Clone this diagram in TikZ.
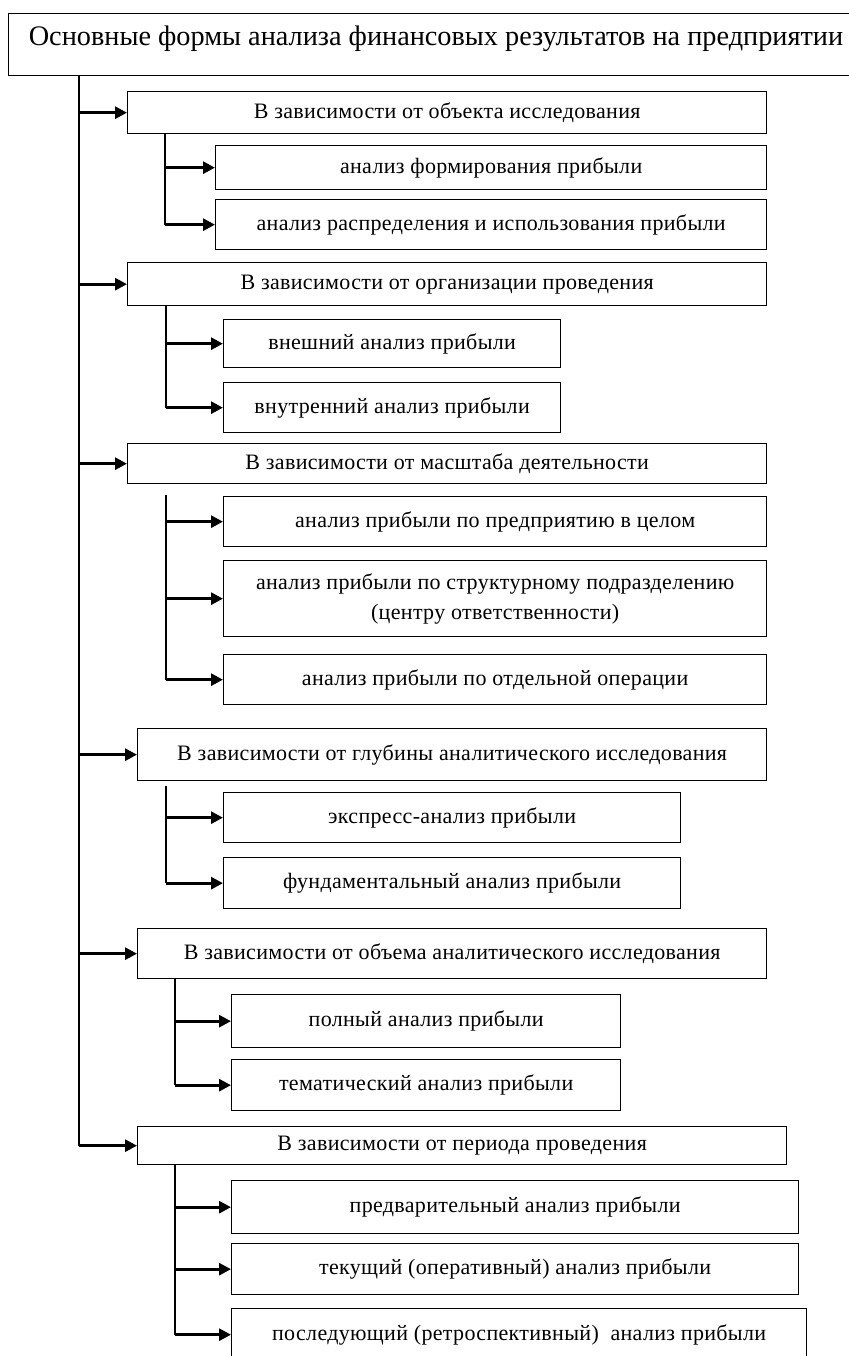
\documentclass[tikz,border=0pt]{standalone}
\usepackage{fontspec}
\setmainfont{Liberation Serif}
\newfontfamily\formfont[LetterSpace=1.5]{Liberation Serif}
\usepackage{xcolor}
\definecolor{Black}{RGB}{0,0,0}
\definecolor{White}{RGB}{255,255,255}
\newcommand{\pxl}[1]{#1*0.75pt}
\usetikzlibrary{arrows.meta}

\begin{document}
\begin{tikzpicture}[x=0.75pt, y=-0.75pt,
		titlebox/.style={draw=Black, line width=1pt, anchor=north west, inner sep=0pt, text height=14pt, text depth=12.5pt, font=\fontsize{21.2}{25}\selectfont},
		formbox/.style={draw=Black, line width=1pt, anchor=north west, inner sep=0pt, align=center, font=\formfont\fontsize{16.5}{22.5}\selectfont},
		link/.style={draw=Black, line width=1pt},
		feed/.style={draw=Black, line width=2.1pt, -{Triangle[length=9pt, width=9pt]}}]
		
		\useasboundingbox[fill=White] (0,0) rectangle (849,1356);
		
		% Title
		\node[titlebox, minimum width=\pxl{844}, minimum height=\pxl{62}] (main) at (8,13) {\hspace*{8pt}Основные формы анализа финансовых результатов на предприятии};
		
		% Forms
		\node[formbox, minimum width=\pxl{639}, minimum height=\pxl{42}] (obj) at (127,91) {В зависимости от объекта исследования};
		\node[formbox, minimum width=\pxl{639}, minimum height=\pxl{43}] (org) at (127,262) {В зависимости от организации проведения};
		\node[formbox, minimum width=\pxl{639}, minimum height=\pxl{40}] (scale) at (127,443) {В зависимости от масштаба деятельности};
		\node[formbox, minimum width=\pxl{629}, minimum height=\pxl{52}] (depth) at (137,728) {В зависимости от глубины аналитического исследования};
		\node[formbox, minimum width=\pxl{629}, minimum height=\pxl{50}] (vol) at (137,928) {В зависимости от объема аналитического исследования};
		\node[formbox, minimum width=\pxl{649}, minimum height=\pxl{38}] (period) at (137,1126) {В зависимости от периода проведения};
		
		% Kinds
		\node[formbox, minimum width=\pxl{551}, minimum height=\pxl{44}] (obj1) at (215,145) {анализ формирования прибыли};
		\node[formbox, minimum width=\pxl{551}, minimum height=\pxl{50}] (obj2) at (215,199) {анализ распределения и использования прибыли};
		
		\node[formbox, minimum width=\pxl{337}, minimum height=\pxl{48}] (org1) at (223,319) {внешний анализ прибыли};
		\node[formbox, minimum width=\pxl{337}, minimum height=\pxl{50}] (org2) at (223,382) {внутренний анализ прибыли};
		
		\node[formbox, minimum width=\pxl{543}, minimum height=\pxl{50}] (scale1) at (223,496) {анализ прибыли по предприятию в целом};
		\node[formbox, minimum width=\pxl{543}, minimum height=\pxl{76}] (scale2) at (223,560) {анализ прибыли по структурному подразделению\\(центру ответственности)};
		\node[formbox, minimum width=\pxl{543}, minimum height=\pxl{50}] (scale3) at (223,654) {анализ прибыли по отдельной операции};
		
		\node[formbox, minimum width=\pxl{457}, minimum height=\pxl{50}] (depth1) at (223,792) {экспресс-анализ прибыли};
		\node[formbox, minimum width=\pxl{457}, minimum height=\pxl{51}] (depth2) at (223,857) {фундаментальный анализ прибыли};
		
		\node[formbox, minimum width=\pxl{389}, minimum height=\pxl{53}] (vol1) at (231,994) {полный анализ прибыли};
		\node[formbox, minimum width=\pxl{389}, minimum height=\pxl{51}] (vol2) at (231,1059) {тематический анализ прибыли};
		
		\node[formbox, minimum width=\pxl{567}, minimum height=\pxl{53}] (period1) at (231,1180) {предварительный анализ прибыли};
		\node[formbox, minimum width=\pxl{567}, minimum height=\pxl{51}] (period2) at (231,1243) {текущий (оперативный) анализ прибыли};
		\node[formbox, minimum width=\pxl{575}, minimum height=\pxl{52}] (period3) at (231,1308) {последующий (ретроспективный)~ анализ прибыли};
		
		% Trunk
		\coordinate (trunk) at (79,75);
		\draw[link] (trunk) -- (trunk |- period.west);
		\draw[feed] (trunk |- obj.west) -- (obj.west);
		\draw[feed] (trunk |- org.west) -- (org.west);
		\draw[feed] (trunk |- scale.west) -- (scale.west);
		\draw[feed] (trunk |- depth.west) -- (depth.west);
		\draw[feed] (trunk |- vol.west) -- (vol.west);
		\draw[feed] (trunk |- period.west) -- (period.west);
		
		% Branches
		\coordinate (objbr) at (165,133);
		\draw[link] (objbr) -- (objbr |- obj2.west);
		\draw[feed] (objbr |- obj1.west) -- (obj1.west);
		\draw[feed] (objbr |- obj2.west) -- (obj2.west);
		
		\coordinate (orgbr) at (166,305);
		\draw[link] (orgbr) -- (orgbr |- org2.west);
		\draw[feed] (orgbr |- org1.west) -- (org1.west);
		\draw[feed] (orgbr |- org2.west) -- (org2.west);
		
		\coordinate (scalebr) at (166,495);
		\draw[link] (scalebr) -- (scalebr |- scale3.west);
		\draw[feed] (scalebr |- scale1.west) -- (scale1.west);
		\draw[feed] (scalebr |- scale2.west) -- (scale2.west);
		\draw[feed] (scalebr |- scale3.west) -- (scale3.west);
		
		\coordinate (depthbr) at (166,786);
		\draw[link] (depthbr) -- (depthbr |- depth2.west);
		\draw[feed] (depthbr |- depth1.west) -- (depth1.west);
		\draw[feed] (depthbr |- depth2.west) -- (depth2.west);
		
		\coordinate (volbr) at (175,978);
		\draw[link] (volbr) -- (volbr |- vol2.west);
		\draw[feed] (volbr |- vol1.west) -- (vol1.west);
		\draw[feed] (volbr |- vol2.west) -- (vol2.west);
		
		\coordinate (periodbr) at (175,1164);
		\draw[link] (periodbr) -- (periodbr |- period3.west);
		\draw[feed] (periodbr |- period1.west) -- (period1.west);
		\draw[feed] (periodbr |- period2.west) -- (period2.west);
		\draw[feed] (periodbr |- period3.west) -- (period3.west);
		
	\end{tikzpicture}
\end{document}
